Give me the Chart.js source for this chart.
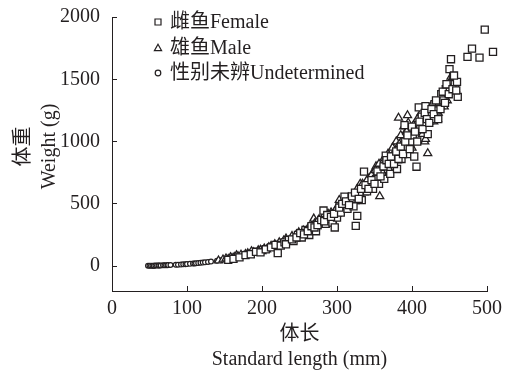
<!DOCTYPE html>
<html>
<head>
<meta charset="utf-8">
<script src="https://cdn.jsdelivr.net/npm/chart.js@4/dist/chart.umd.min.js"></script>
<style>
html,body{margin:0;padding:0;background:#fff}
#wrap{width:506px;height:370px}
</style>
</head>
<body>
<div id="wrap"><canvas id="myChart" width="506" height="370"></canvas></div>
<script>
// standard length (mm), weight (g)
let femaleData = [[155,50],[162,58],[170,70],[178,88],[185,95],[192,115],[198,110],[205,135],[212,150],[218,170],
  [221,104],[225,165],[230,190],[236,210],[242,200],[248,250],[253,230],[258,290],[263,250],[268,300],
  [272,280],[276,350],[282,446],[285,340],[290,380],[294,350],[297,310],[300,390],[305,430],[310,558],
  [314,460],[318,520],[322,480],[325,323],[327,403],[330,570],[333,530],[336,758],[340,600],[344,650],
  [348,620],[352,700],[356,660],[360,740],[363,700],[365,887],[368,780],[371,740],[374,830],[377,880],
  [380,780],[383,900],[386,860],[390,1132],[392,950],[395,900],[398,1000],[401,1050],[403,880],[406,798],
  [409,1274],[411,1100],[413,1200],[415,1150],[418,1284],[421,1060],[424,1220],[427,1180],[430,1300],[433,1250],
  [436,1320],[439,1380],[442,1330],[445,1420],[447,1400],[450,1581],[452,1661],[455,1525],[457,1460],[460,1479],
  [461,1359],[474,1680],[480,1746],[490,1674],[497,1899],[508,1720],
  [232,175],[240,215],[246,230],[251,265],[256,255],[261,280],[266,320],[270,310],[274,330],[279,370],
  [283,360],[287,410],[292,395],[296,420],[303,470],[307,500],[312,520],[316,490],[320,560],[324,590],
  [329,540],[332,620],[338,650],[342,620],[346,690],[350,660],[354,760],[358,720],[362,800],[366,850],
  [369,820],[372,880],[376,820],[379,920],[382,860],[385,960],[388,900],[391,1000],[394,1050],[397,940],
  [400,1120],[404,1080],[407,1000],[410,1160],[414,1100],[417,1230],[420,1180],[423,1150],[426,1260],[429,1220],
  [432,1330],[435,1180],[438,1260],[441,1400],[444,1310],[446,1460],[449,1380],[454,1420],[456,1530],[459,1410]];
let maleData = [[142,44],[148,52],[152,60],[155,55],[158,70],[160,64],[163,72],[166,85],[168,78],[172,90],
  [175,80],[178,96],[181,102],[184,92],[186,118],[189,110],[192,104],[195,125],[198,130],[200,118],
  [203,140],[206,132],[209,150],[212,160],[214,145],[217,175],[220,165],[223,190],[226,178],[229,205],
  [232,220],[235,195],[238,215],[240,240],[243,225],[246,255],[249,270],[252,240],[255,285],[258,265],
  [261,300],[264,280],[267,330],[269,380],[271,310],[274,345],[277,360],[280,330],[283,390],[286,370],
  [288,420],[291,400],[294,365],[297,440],[300,420],[303,530],[305,470],[308,455],[311,500],[314,480],
  [317,540],[320,510],[323,580],[326,560],[329,600],[331,660],[333,620],[336,590],[339,640],[342,700],
  [345,680],[348,750],[350,720],[352,800],[355,690],[357,560],[359,780],[362,840],[364,760],[367,810],
  [370,870],[372,790],[375,900],[378,960],[380,850],[382,1190],[384,940],[386,1000],[388,920],[390,1060],
  [392,980],[394,1210],[396,1030],[398,1100],[400,950],[403,1080],[405,1150],[408,1120],[411,1180],[414,1060],
  [417,1000],[419,1230],[421,905],[423,1160],[425,1280],[428,1200],[431,1250],[434,1180],[437,1300],[440,1350],
  [443,1280],[446,1400],[449,1460],[452,1520],[455,1450],[458,1420],
  [245,230],[250,250],[254,262],[257,245],[262,285],[266,300],[270,340],[273,320],[276,375],[279,350],
  [282,400],[285,385],[289,360],[292,430],[296,410],[299,460],[302,445],[306,490],[309,520],[312,470],
  [315,550],[318,500],[321,560],[324,520],[327,620],[330,590],[334,660],[337,610],[340,690],[343,640],
  [346,730],[349,680],[351,770],[354,730],[356,820],[358,700],[361,800],[363,870],[366,760],[368,900],
  [371,820],[374,950],[376,860],[379,1000],[381,900],[383,980],[385,1050],[387,950],[389,1120],[391,1000],
  [393,1080],[395,1150],[397,980],[399,1040],[402,1130],[404,1000],[407,1180],[410,1090],[412,1230],[416,1150],
  [418,1020],[420,1190],[422,1250],[426,1220],[429,1160],[432,1300],[435,1230],[438,1280],[441,1320],[444,1380],
  [447,1330],[450,1430],[453,1480],[456,1510]];
let undetData = [[48,2],[50,2],[52,3],[54,3],[56,2],[56,3],[58,4],[60,4],[62,4],[63,5],
  [65,5],[68,6],[70,6],[72,7],[74,7],[75,8],[78,9],[85,10],[88,11],[92,12],
  [95,14],[98,15],[100,16],[104,18],[108,20],[110,21],[112,22],[115,24],[118,26],[121,28],
  [124,30],[128,33],[132,36],[140,42],[145,46],[165,75],[170,72]];

let seriesNames = ['雌鱼Female','雄鱼Male','性别未辨Undetermined'];
let xTicks = [0,100,200,300,400,500];
let yTicks = [0,500,1000,1500,2000];

let ink = '#231f20';
let fontFam = '"Liberation Serif", "Noto Sans CJK SC", serif';

function toPts(arr){ return arr.map(p => ({x:p[0], y:p[1]})); }

// no extra scale padding, the layout padding alone places the plot
function noPad(s){ s.paddingTop = 0; s.paddingBottom = 0; s.paddingLeft = 0; s.paddingRight = 0; }

// legend drawn inside the plot, top left
let legendPlugin = {
  id:'insideLegend',
  afterDraw(chart){
    let ctx = chart.ctx;
    let rows = [22,48,73];
    let mx = 158;
    ctx.save();
    ctx.strokeStyle = ink;
    ctx.lineWidth = 1.2;
    ctx.fillStyle = '#fff';
    // square
    ctx.beginPath(); ctx.rect(mx-3, rows[0]-3, 6, 6); ctx.fill(); ctx.stroke();
    // triangle
    ctx.beginPath(); ctx.moveTo(mx, rows[1]-3.8); ctx.lineTo(mx+3.6, rows[1]+2.6); ctx.lineTo(mx-3.6, rows[1]+2.6); ctx.closePath(); ctx.fill(); ctx.stroke();
    // circle
    ctx.beginPath(); ctx.arc(mx, rows[2], 2.8, 0, Math.PI*2); ctx.fill(); ctx.stroke();
    ctx.fillStyle = ink;
    ctx.font = '20px ' + fontFam;
    ctx.textBaseline = 'middle';
    ctx.textAlign = 'left';
    seriesNames.forEach((n,i) => ctx.fillText(n, 170, rows[i]+1));
    ctx.restore();
  }
};

let ctx1 = document.getElementById('myChart').getContext('2d');
let chart1 = new Chart(ctx1, {
  type:'scatter',
  data:{
    datasets:[{
      label:seriesNames[0],
      data:toPts(femaleData),
      pointStyle:'rect',
      pointRadius:5,
      borderColor:ink,
      borderWidth:1.3,
      backgroundColor:'#fff',
      clip:false
    },{
      label:seriesNames[1],
      data:toPts(maleData),
      pointStyle:'triangle',
      pointRadius:4.6,
      borderColor:ink,
      borderWidth:1.3,
      backgroundColor:'#fff',
      clip:false
    },{
      label:seriesNames[2],
      data:toPts(undetData),
      pointStyle:'circle',
      pointRadius:2.4,
      borderColor:ink,
      borderWidth:1.2,
      backgroundColor:'#fff',
      clip:false
    }]
  },
  options:{
    responsive:false,
    animation:false,
    layout:{ padding:{top:17, right:19, left:0, bottom:0} },
    plugins:{ legend:{display:false}, tooltip:{enabled:false} },
    scales:{
      x:{
        type:'linear',
        min:0, max:500,
        afterBuildTicks:s => { s.ticks = xTicks.map(v => ({value:v})); },
        afterFit:s => { s.height = 79; noPad(s); },
        grid:{ drawOnChartArea:false, tickLength:-5, color:ink },
        border:{ color:ink, width:1 },
        ticks:{ color:ink, padding:11, font:{family:fontFam, size:20}, callback:v => String(v) },
        title:{
          display:true,
          text:['体长','Standard length (mm)'],
          color:ink,
          font:{family:fontFam, size:20, lineHeight:1.25},
          padding:{top:0, bottom:-2}
        }
      },
      y:{
        type:'linear',
        min:-200, max:2000,
        afterBuildTicks:s => { s.ticks = yTicks.map(v => ({value:v})); },
        afterFit:s => { s.width = 112; noPad(s); },
        grid:{ drawOnChartArea:false, tickLength:-5, color:ink },
        border:{ color:ink, width:1 },
        ticks:{ color:ink, padding:17, font:{family:fontFam, size:20}, callback:v => String(v) },
        title:{
          display:true,
          // leading spaces nudge the centred title a little upward, as in the original
          text:['   体重','   Weight (g)'],
          color:ink,
          font:{family:fontFam, size:20, lineHeight:1.3},
          padding:{top:11, bottom:0}
        }
      }
    }
  },
  plugins:[legendPlugin]
});
</script>
</body>
</html>
